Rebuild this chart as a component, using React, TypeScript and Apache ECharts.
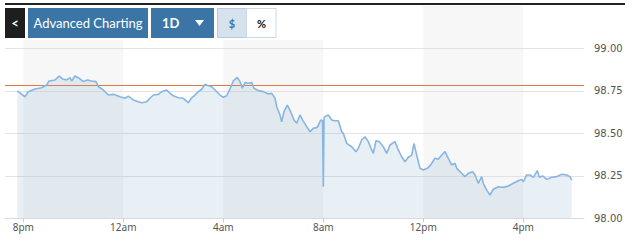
import React, { useEffect, useRef } from "react";
import * as echarts from "echarts";

// hours since 8pm
const hours = [
  -0.24, 0.068, 0.2, 0.468, 0.736, 0.936, 1.028, 1.268, 1.44, 1.576, 1.736, 1.868, 1.936, 2.068, 2.228, 2.4, 2.56,
  2.736, 2.908, 3.0, 3.2, 3.4, 3.6, 3.868, 4.068, 4.2, 4.4, 4.6, 4.736, 4.936, 5.068, 5.2, 5.4, 5.536, 5.736, 5.868,
  6.0, 6.2, 6.4, 6.6, 6.736, 6.868, 7.0, 7.136, 7.268, 7.4, 7.536, 7.668, 7.868, 8.0, 8.136, 8.268, 8.4, 8.56, 8.668,
  8.76, 8.868, 9.0, 9.136, 9.228, 9.4, 9.6, 9.8, 9.936, 10.068, 10.136, 10.268, 10.336, 10.428, 10.56, 10.696, 10.828,
  10.936, 11.068, 11.176, 11.336, 11.468, 11.6, 11.76, 11.896, 11.97, 12.0, 12.03, 12.068, 12.2, 12.336, 12.468, 12.6,
  12.736, 12.8, 12.936, 13.136, 13.308, 13.4, 13.536, 13.668, 13.8, 13.936, 14.0, 14.108, 14.24, 14.4, 14.536, 14.668,
  14.868, 15.0, 15.136, 15.268, 15.4, 15.536, 15.628, 15.736, 15.868, 16.0, 16.16, 16.296, 16.468, 16.6, 16.736,
  16.868, 17.0, 17.136, 17.268, 17.336, 17.536, 17.668, 17.8, 17.976, 18.068, 18.2, 18.336, 18.4, 18.536, 18.668, 18.8,
  19.0, 19.2, 19.4, 19.6, 19.8, 19.936, 20.0, 20.136, 20.268, 20.4, 20.56, 20.64, 20.776, 20.936, 21.136, 21.336,
  21.536, 21.736, 21.868, 21.936,
];

const prices = [
  98.749, 98.715, 98.745, 98.761, 98.768, 98.784, 98.808, 98.814, 98.837, 98.819, 98.814, 98.827, 98.808, 98.837,
  98.824, 98.804, 98.814, 98.808, 98.804, 98.774, 98.755, 98.725, 98.729, 98.715, 98.706, 98.719, 98.696, 98.686,
  98.68, 98.686, 98.706, 98.725, 98.729, 98.745, 98.755, 98.735, 98.721, 98.709, 98.706, 98.68, 98.709, 98.725,
  98.745, 98.759, 98.788, 98.78, 98.774, 98.755, 98.725, 98.712, 98.721, 98.761, 98.808, 98.829, 98.804, 98.765,
  98.798, 98.794, 98.798, 98.765, 98.751, 98.745, 98.731, 98.735, 98.706, 98.656, 98.608, 98.568, 98.627, 98.666,
  98.627, 98.578, 98.559, 98.608, 98.578, 98.539, 98.509, 98.529, 98.535, 98.578, 98.575, 98.186, 98.59, 98.598,
  98.608, 98.578, 98.574, 98.574, 98.509, 98.5, 98.441, 98.421, 98.392, 98.412, 98.461, 98.48, 98.451, 98.402,
  98.382, 98.456, 98.451, 98.421, 98.382, 98.431, 98.451, 98.402, 98.362, 98.333, 98.359, 98.372, 98.441, 98.372,
  98.294, 98.284, 98.294, 98.314, 98.353, 98.347, 98.372, 98.392, 98.353, 98.314, 98.324, 98.294, 98.265, 98.245,
  98.265, 98.274, 98.255, 98.206, 98.245, 98.206, 98.166, 98.137, 98.171, 98.186, 98.182, 98.19, 98.206, 98.221,
  98.229, 98.215, 98.255, 98.255, 98.241, 98.28, 98.241, 98.249, 98.229, 98.241, 98.245, 98.259, 98.255, 98.245,
  98.225,
];

const tickHours = [0, 4, 8, 12, 16, 20];
const tickLabels = ["8pm", "12am", "4am", "8am", "12pm", "4pm"];
const bandStarts = [0, 8, 16];
const bandLength = 4;
const refLevel = 98.782;
const yTicks = [98, 98.25, 98.5, 98.75, 99];

export default function App() {
  const ref = useRef<HTMLDivElement>(null);
  useEffect(() => {
    document.body.style.margin = "0";
    if (!ref.current) return;
    const chart = echarts.init(ref.current, undefined, { renderer: "svg" });
    const data = hours.map((h, i) => [h, prices[i]]);
    const blue = "#3a75a5";
    chart.setOption({
      animation: false,
      grid: { left: 5, right: 58, top: 5.8, bottom: 24.7 },
      xAxis: {
        type: "value",
        min: -0.732,
        max: 22.428,
        z: 3,
        axisLine: { show: true, lineStyle: { color: "#dcdcdc", width: 1 } },
        axisTick: { show: true, customValues: tickHours, length: 4, lineStyle: { color: "#cccccc" } },
        axisLabel: {
          customValues: tickHours,
          formatter: (v: number) => tickLabels[tickHours.indexOf(v)] ?? "",
          color: "#555555",
          fontFamily: "Noto Sans",
          fontSize: 10,
          margin: 4,
        },
        splitLine: { show: false },
      },
      yAxis: {
        type: "value",
        position: "right",
        min: 98,
        max: 99.25,
        interval: 0.25,
        z: 3,
        axisLine: { show: false },
        axisTick: { show: false },
        axisLabel: {
          formatter: (v: number) => (yTicks.some((t) => Math.abs(t - v) < 1e-6) ? v.toFixed(2) : ""),
          color: "#555555",
          fontFamily: "DejaVu Sans",
          fontSize: 10,
          margin: 10,
        },
        splitLine: { show: true, showMaxLine: false, lineStyle: { color: "#e3e3e3", width: 1 } },
      },
      series: [
        {
          type: "line",
          data: [],
          z: 1,
          silent: true,
          markArea: {
            silent: true,
            itemStyle: { color: "#f7f7f7" },
            data: bandStarts.map((s) => [{ xAxis: s }, { xAxis: s + bandLength }]),
          },
        },
        {
          type: "line",
          data,
          z: 5,
          symbol: "none",
          lineStyle: { color: "#88b6e2", width: 1.6 },
          areaStyle: { color: "rgba(125,165,198,0.25)", origin: "start" },
          markLine: {
            silent: true,
            symbol: ["none", "none"],
            label: { show: false },
            lineStyle: { color: "#e07a45", width: 1, type: "solid" },
            data: [{ yAxis: refLevel }],
          },
        },
      ],
      graphic: [
        { type: "rect", z: 100, shape: { x: 5, y: 5, width: 340, height: 35 }, style: { fill: "#ffffff" } },
        { type: "rect", z: 101, shape: { x: 5, y: 3, width: 620, height: 2 }, style: { fill: "#222222" } },
        { type: "rect", z: 101, shape: { x: 5, y: 8, width: 20, height: 30 }, style: { fill: "#1e1e1e" } },
        {
          type: "text",
          z: 102,
          x: 15,
          y: 23,
          style: { text: "<", fill: "#ffffff", font: "bold 13px Lato", align: "center", verticalAlign: "middle" },
        },
        { type: "rect", z: 101, shape: { x: 28, y: 8, width: 120, height: 30 }, style: { fill: blue } },
        {
          type: "text",
          z: 102,
          x: 88,
          y: 23,
          style: {
            text: "Advanced Charting",
            fill: "#ffffff",
            font: "13px Lato",
            align: "center",
            verticalAlign: "middle",
          },
        },
        { type: "rect", z: 101, shape: { x: 151, y: 8, width: 63, height: 30 }, style: { fill: blue } },
        {
          type: "text",
          z: 102,
          x: 162,
          y: 23,
          style: { text: "1D", fill: "#ffffff", font: "bold 13px Lato", align: "left", verticalAlign: "middle" },
        },
        {
          type: "polygon",
          z: 102,
          shape: { points: [[195, 20], [204, 20], [199.5, 26]] },
          style: { fill: "#ffffff" },
        },
        {
          type: "rect",
          z: 101,
          shape: { x: 217.5, y: 8.5, width: 29, height: 29 },
          style: { fill: "#d6e3ee", stroke: "#b5cbe0", lineWidth: 1 },
        },
        {
          type: "text",
          z: 102,
          x: 232,
          y: 23,
          style: { text: "$", fill: blue, font: "bold 11px Lato", align: "center", verticalAlign: "middle" },
        },
        {
          type: "rect",
          z: 101,
          shape: { x: 246.5, y: 8.5, width: 29.5, height: 29 },
          style: { fill: "#ffffff", stroke: "#c9d9e7", lineWidth: 1 },
        },
        {
          type: "text",
          z: 102,
          x: 261.5,
          y: 23,
          style: { text: "%", fill: "#111111", font: "bold 11px Lato", align: "center", verticalAlign: "middle" },
        },
      ],
    });
    return () => chart.dispose();
  }, []);
  return <div ref={ref} style={{ width: 642, height: 243 }} />;
}
